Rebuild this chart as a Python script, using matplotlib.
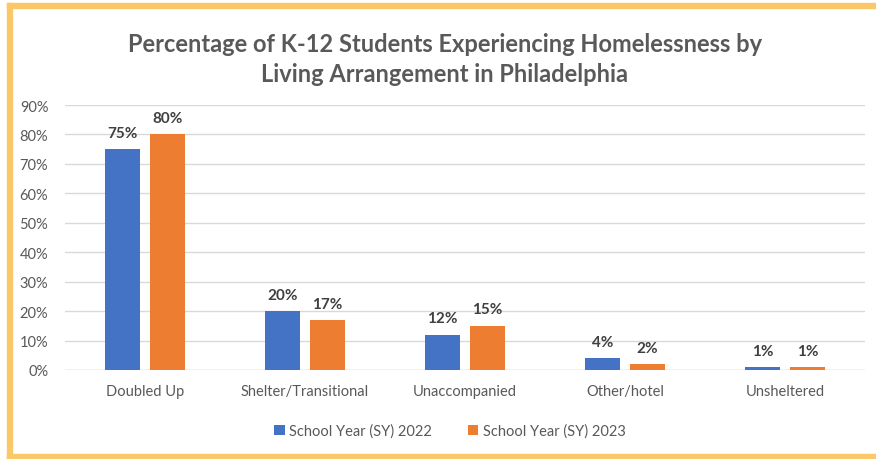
import matplotlib.pyplot as plt
import numpy as np
from matplotlib.patches import Rectangle
from matplotlib.ticker import PercentFormatter

plt.rcParams['font.family'] = ['Lato', 'DejaVu Sans']

categories = ["Doubled Up", "Shelter/Transitional", "Unaccompanied", "Other/hotel", "Unsheltered"]
sy2022 = [75, 20, 12, 4, 1]
sy2023 = [80, 17, 15, 2, 1]
series_names = ["School Year (SY) 2022", "School Year (SY) 2023"]
yticks = list(range(0, 100, 10))

blue = "#4472C4"
orange = "#ED7D31"
gray = "#595959"

fig = plt.figure(figsize=(8.76, 4.6), dpi=100)
ax = fig.add_axes([65 / 876, 1 - 371 / 460, 800 / 876, 265 / 460])

x = np.arange(len(categories))
w = 0.22
off = 0.14
b1 = ax.bar(x - off, sy2022, w, color=blue, label=series_names[0], zorder=3)
b2 = ax.bar(x + off, sy2023, w, color=orange, label=series_names[1], zorder=3)

for bars, vals in ((b1, sy2022), (b2, sy2023)):
    for bar, v in zip(bars, vals):
        ax.text(bar.get_x() + bar.get_width() / 2, v + 3.2, f"{v}%",
                ha="center", va="bottom", fontsize=11, fontweight="bold", color="#404040")

ax.set_xlim(-0.5, len(categories) - 0.5)
ax.set_ylim(0, 90)
ax.set_yticks(yticks)
ax.yaxis.set_major_formatter(PercentFormatter(decimals=0))
ax.set_xticks(x)
ax.set_xticklabels(categories)
ax.tick_params(axis="both", length=0, labelsize=10.5, colors=gray)
ax.tick_params(axis="x", pad=10)
ax.tick_params(axis="y", pad=12)
ax.grid(axis="y", color="#d9d9d9", linewidth=1, zorder=0)
for s in ax.spines.values():
    s.set_visible(False)
ax.axhline(0, color="#d9d9d9", linewidth=1, zorder=2)

fig.text(445 / 876, 1 - 45 / 460, "Percentage of K-12 Students Experiencing Homelessness by",
         ha="center", va="center", fontsize=17, fontweight="bold", color=gray)
fig.text(445 / 876, 1 - 75 / 460, "Living Arrangement in Philadelphia",
         ha="center", va="center", fontsize=17, fontweight="bold", color=gray)

fig.legend(loc="center", bbox_to_anchor=(450 / 876, 1 - 432 / 460), ncol=2, frameon=False,
           fontsize=10.5, labelcolor=gray, handlelength=0.7, handleheight=0.7,
           handletextpad=0.3, columnspacing=2.5)

# open frame around the chart (left, top and bottom edges)
frame = "#FAC868"
fig.patches.append(Rectangle((7 / 876, 0), 5 / 876, 1 - 4 / 460, transform=fig.transFigure,
                             color=frame, zorder=0))
fig.patches.append(Rectangle((7 / 876, 1 - 9 / 460), 1, 5 / 460, transform=fig.transFigure,
                             color=frame, zorder=0))
fig.patches.append(Rectangle((7 / 876, 0), 1, 5 / 460, transform=fig.transFigure,
                             color=frame, zorder=0))

fig.savefig("out.png", dpi=100)
